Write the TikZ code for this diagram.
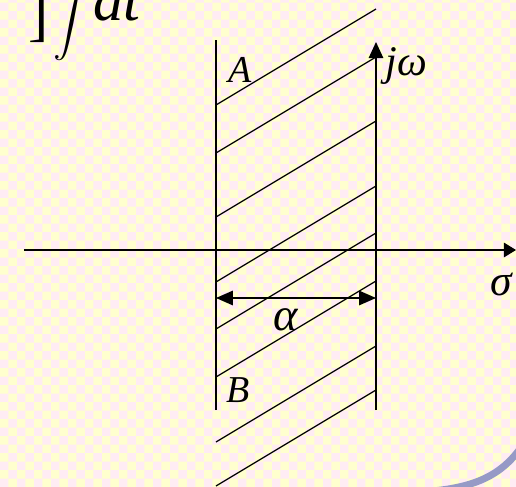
\documentclass[tikz,border=0pt]{standalone}
\usepackage{fontspec}
\setmainfont{Liberation Serif}
\usepackage{graphicx}
\usepackage{tikz}
\usetikzlibrary{arrows.meta,positioning,patterns}
\definecolor{paper}{RGB}{255,255,206}
\definecolor{blush}{RGB}{255,236,244}
\definecolor{slideblue}{RGB}{150,154,198}
\definecolor{ink}{RGB}{0,0,0}
\pgfdeclarepatternformonly{checks}{\pgfpointorigin}{\pgfpoint{12pt}{12pt}}{\pgfpoint{12pt}{12pt}}{%
  \pgfpathrectangle{\pgfpointorigin}{\pgfpoint{6pt}{6pt}}%
  \pgfpathrectangle{\pgfpoint{6pt}{6pt}}{\pgfpoint{6pt}{6pt}}%
  \pgfusepath{fill}}
\tikzset{
  axis/.style={draw=ink,line width=1pt,-{Triangle[length=#1,width=3.6mm]}},
  axis/.default=3mm,
  strip/.style={draw=ink,line width=1pt},
  hatch/.style={draw=ink,line width=0.9pt},
  span/.style={draw=ink,line width=1pt,{Triangle[length=4.2mm,width=3.6mm]}-{Triangle[length=4.2mm,width=3.6mm]}},
  lbl/.style={text=ink,inner sep=0pt,font=\fontsize{#1}{#1}\selectfont\itshape},
  lbl/.default=27,
  frag/.style={text=ink,inner sep=0pt,font=\fontsize{#1}{#1}\selectfont\itshape},
  frag/.default=43,
}

\begin{document}
\begin{tikzpicture}[x=0.025cm,y=-0.025cm]
  \useasboundingbox (0,0) rectangle (516,487);
  \clip (0,0) rectangle (516,487);
  \fill[paper] (0,0) rectangle (516,487);
  \fill[pattern=checks,pattern color=blush] (0,0) rectangle (516,487);
  % slide border corner
  \draw[slideblue,line width=5pt] (420,492) .. controls (470,489) and (500,478) .. (522,446);
  % fragment of the formula above
  \node[frag,anchor=base,font=\fontsize{43}{43}\selectfont\upshape] (brk) at (39,34) {]};
  \node[inner sep=0pt,anchor=south] (intg) at (72,61) {\scalebox{2.6}{$\displaystyle\int$}};
  \node[frag,anchor=base west] (dt) at (93,20) {dt};
  % axes
  \coordinate (sw) at (24,250);
  \coordinate (se) at (516,250);
  \coordinate (jb) at (376,410);
  \coordinate (jt) at (376,42);
  \coordinate (lt) at (216,40);
  \coordinate (lb) at (216,410);
  \draw[axis] (sw) -- (se);
  \draw[axis=4mm] (jb) -- (jt);
  \draw[strip] (lt) -- (lb);
  % hatching
  \foreach \ly in {105,153,217,282,329,377,442,486}
    \draw[hatch] (216,\ly) -- ++(160,-96);
  % width of the strip
  \coordinate (al) at (216,298);
  \coordinate (ar) at (376,298);
  \draw[span] (al) -- (ar);
  % labels
  \node[lbl,anchor=base] (A) at (240,82) {A};
  \node[lbl,anchor=base] (B) at (238,402) {B};
  \node[lbl=30,anchor=base west] (jw) at (385,75) {jω};
  \node[lbl=31,anchor=base] (sig) at (501,295) {σ};
  \node[lbl=33,anchor=base] (alp) at (286,330) {α};
\end{tikzpicture}
\end{document}
